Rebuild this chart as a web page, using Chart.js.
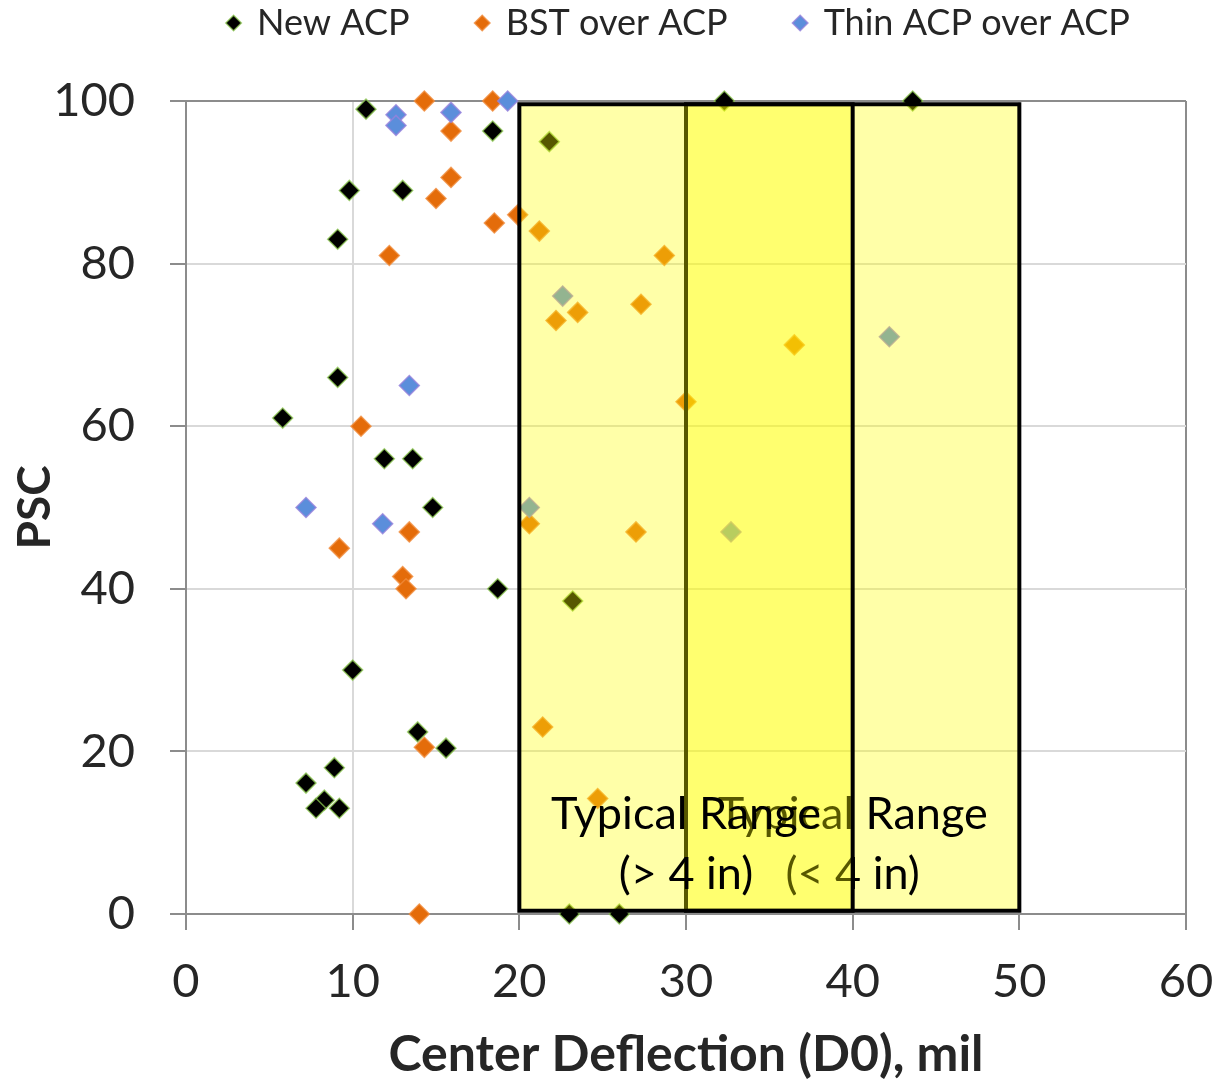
<!DOCTYPE html>
<html><head><meta charset="utf-8">
<script src="https://cdn.jsdelivr.net/npm/chart.js@4/dist/chart.umd.min.js"></script>
<style>html,body{margin:0;padding:0;background:#fff}</style>
</head><body>
<canvas id="c" width="1218" height="1080"></canvas>
<script>
// ---------- data ----------
const seriesNames = ['New ACP', 'BST over ACP', 'Thin ACP over ACP'];

const newAcpD0  = [10.8, 32.3, 43.6, 18.4, 21.8, 9.8, 13.0, 9.1, 9.1, 5.8, 11.9, 13.6, 14.8, 18.7, 23.2, 10.0, 13.9, 15.6, 8.9, 7.2, 8.3, 7.8, 9.2, 23.0, 26.0];
const newAcpPSC = [99, 100, 100, 96.3, 95, 89, 89, 83, 66, 61, 56, 56, 50, 40, 38.5, 30, 22.4, 20.4, 18, 16.1, 14, 13, 13, 0, 0];

const bstD0  = [14.3, 18.4, 15.9, 15.9, 15.0, 19.9, 18.5, 21.2, 12.2, 28.7, 27.3, 23.5, 22.2, 36.5, 30.0, 10.5, 20.6, 13.4, 27.0, 9.2, 13.0, 13.2, 21.4, 14.3, 24.7, 14.0];
const bstPSC = [100, 100, 96.3, 90.6, 88, 86, 85, 84, 81, 81, 75, 74, 73, 70, 63, 60, 48, 47, 47, 45, 41.5, 40, 23, 20.5, 14.2, 0];

const thinD0  = [19.3, 12.6, 12.6, 15.9, 22.6, 42.2, 13.4, 7.2, 11.8, 20.6, 32.7];
const thinPSC = [100, 98.3, 97, 98.6, 76, 71, 65, 50, 48, 50, 47];

const xTickValues = [0, 10, 20, 30, 40, 50, 60];
const yTickValues = [0, 20, 40, 60, 80, 100];

const rangeFrom   = [30, 20];
const rangeTo     = [50, 40];
const rangeLabels = [['Typical Range', '(< 4 in)'], ['Typical Range', '(> 4 in)']];
const rangePSC    = [0.4, 99.6];

const xTitle = 'Center Deflection (D0), mil';
const yTitle = 'PSC';

// ---------- helpers ----------
const pts = (xs, ys) => xs.map((v, i) => ({x: v, y: ys[i]}));

// legend: fixed height, items shifted
const LEG_H = 101, LEG_SHIFT_Y = -62, LEG_SHIFT_X = 86;
try {
  const LegEl = Chart.Legend && Chart.Legend._element;
  if (LegEl) {
    const of = LegEl.prototype.fit;
    LegEl.prototype.fit = function () { of.call(this); if (this.isHorizontal()) this.height = LEG_H; };
    const od = LegEl.prototype.draw;
    LegEl.prototype.draw = function () {
      const c = this.ctx; c.save(); c.translate(LEG_SHIFT_X, LEG_SHIFT_Y); od.call(this); c.restore();
    };
  }
} catch (e) {}

const rangePlugin = {
  id: 'typicalRanges',
  afterDatasetsDraw(chart) {
    const {ctx, scales: {x, y}} = chart;
    const top = y.getPixelForValue(rangePSC[1]);
    const bottom = y.getPixelForValue(rangePSC[0]);
    ctx.save();
    rangeFrom.forEach((f, i) => {
      const l = x.getPixelForValue(f), r = x.getPixelForValue(rangeTo[i]);
      ctx.fillStyle = 'rgba(255,255,0,0.34)';
      ctx.fillRect(l, top, r - l, bottom - top);
      ctx.lineWidth = 4;
      ctx.strokeStyle = '#000';
      ctx.strokeRect(l, top, r - l, bottom - top);
      ctx.fillStyle = '#000';
      ctx.font = '45px Lato';
      ctx.textAlign = 'center';
      ctx.textBaseline = 'middle';
      const cx = (l + r) / 2;
      ctx.fillText(rangeLabels[i][0], cx, bottom - 96);
      ctx.fillText(rangeLabels[i][1], cx, bottom - 36);
    });
    ctx.restore();
  }
};

Chart.defaults.font.family = 'Lato';
const AXIS = '#8c8c8c', GRID = '#d9d9d9', TXT = '#262626';

new Chart(document.getElementById('c'), {
  type: 'scatter',
  data: {
    datasets: [
      {label: seriesNames[0], data: pts(newAcpD0, newAcpPSC), backgroundColor: '#000000',
       borderColor: 'rgba(140,200,80,0.75)', order: 3},
      {label: seriesNames[1], data: pts(bstD0, bstPSC), backgroundColor: '#E46C0A',
       borderColor: 'rgba(240,140,60,0.8)', order: 2},
      {label: seriesNames[2], data: pts(thinD0, thinPSC), backgroundColor: '#5B8EDB',
       borderColor: 'rgba(150,130,220,0.8)', order: 1}
    ].map(d => Object.assign(d, {pointStyle: 'rectRot', pointRadius: 10, pointHoverRadius: 10,
                                  borderWidth: 1.5, clip: false}))
  },
  options: {
    responsive: false,
    animation: false,
    events: [],
    layout: {padding: {left: 0, right: 32, top: 0, bottom: 0}},
    plugins: {
      tooltip: {enabled: false},
      legend: {
        position: 'top',
        align: 'center',
        fullSize: true,
        labels: {
          usePointStyle: true,
          pointStyle: 'rectRot',
          boxWidth: 11,
          boxHeight: 11,
          padding: 67,
          color: TXT,
          font: {size: 36},
          sort: (a, b) => a.datasetIndex - b.datasetIndex
        }
      }
    },
    scales: {
      x: {
        type: 'linear', min: 0, max: 60,
        afterBuildTicks: s => { s.ticks = xTickValues.map(v => ({value: v})); },
        afterFit: s => { s.height = 166; s.paddingRight = 0; s.paddingLeft = 0; },
        ticks: {color: TXT, font: {size: 47}, padding: 24, maxRotation: 0},
        grid: {
          color: c => (c.tick && c.tick.value === 60) ? AXIS : GRID,
          lineWidth: 2, tickColor: AXIS, tickLength: 16, tickWidth: 2
        },
        border: {color: AXIS, width: 2},
        title: {display: true, text: xTitle, color: TXT, font: {size: 50, weight: 'bold'},
                padding: {top: 0, bottom: -5}}
      },
      y: {
        type: 'linear', min: 0, max: 100,
        afterBuildTicks: s => { s.ticks = yTickValues.map(v => ({value: v})); },
        afterFit: s => { s.width = 186; },
        ticks: {color: TXT, font: {size: 47}, padding: 35},
        grid: {
          color: c => (c.tick && c.tick.value === 100) ? AXIS : GRID,
          lineWidth: 2, tickColor: AXIS, tickLength: 16, tickWidth: 2
        },
        border: {color: AXIS, width: 2},
        title: {display: true, text: yTitle, color: TXT, font: {size: 46, weight: 'bold'},
                padding: {top: 8, bottom: 0}}
      }
    }
  },
  plugins: [rangePlugin]
});
</script>
</body></html>
